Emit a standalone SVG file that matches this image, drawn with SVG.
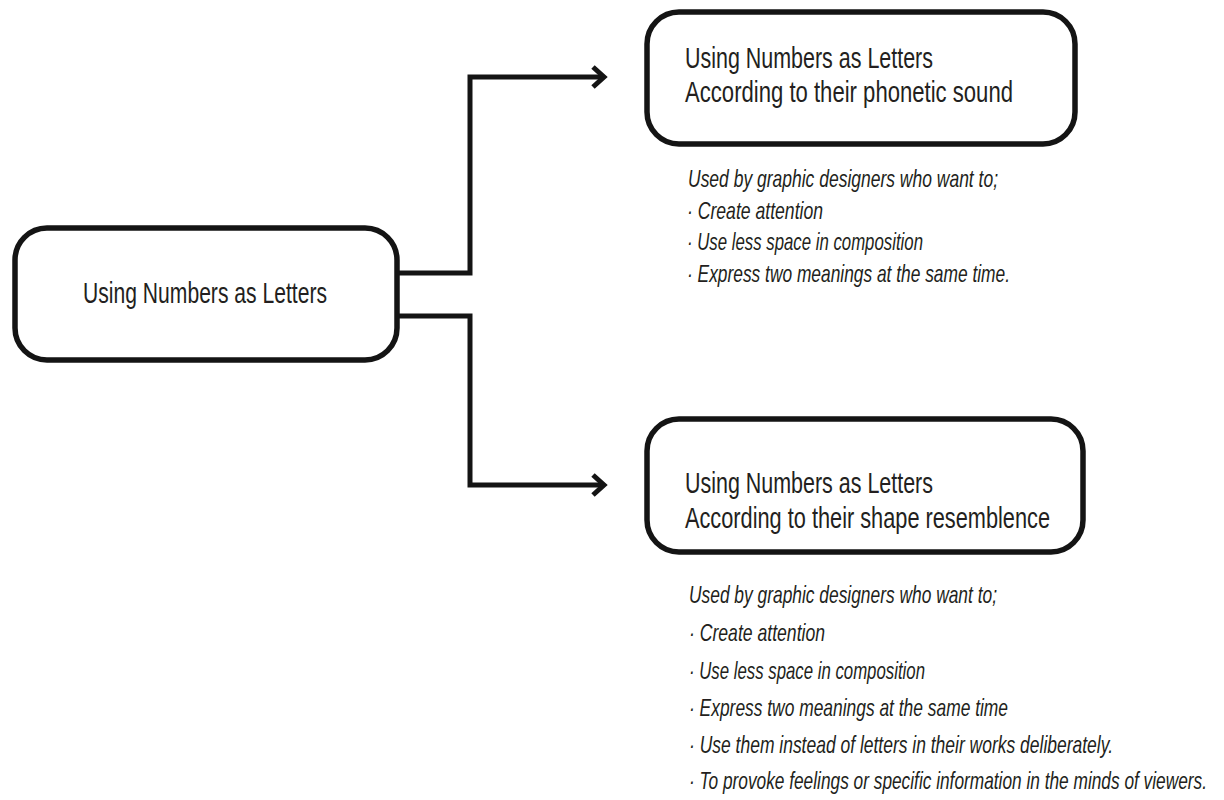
<svg xmlns="http://www.w3.org/2000/svg" width="1224" height="800" viewBox="0 0 1224 800">
  <defs>
    <style>
      .box { fill: #ffffff; stroke: #141414; stroke-width: 5.5; }
      .conn { fill: none; stroke: #141414; stroke-width: 5; stroke-linejoin: miter; }
      .t { font-family: "Liberation Sans", Arial, sans-serif; font-size: 29px; fill: #231f20; }
      .it { font-family: "Liberation Sans", Arial, sans-serif; font-style: italic; fill: #231f20; font-size: 23px; }
    </style>
    <marker id="arrow" markerUnits="userSpaceOnUse" markerWidth="30" markerHeight="30" viewBox="-20 -15 30 30" refX="0" refY="0" orient="auto">
      <path d="M-11,-10 L0,0 L-11,10" fill="none" stroke="#141414" stroke-width="5" stroke-linejoin="miter"/>
    </marker>
  </defs>
  <rect width="1224" height="800" fill="#ffffff"/>

  <g id="connectors">
    <path class="conn" d="M397,273 H470 V77 H604" marker-end="url(#arrow)"/>
    <path class="conn" d="M397,316 H470 V485 H604" marker-end="url(#arrow)"/>
  </g>

  <g id="node-root">
    <rect class="box" x="15" y="228" width="382" height="132" rx="32" ry="32"/>
    <text class="t" x="83" y="303" textLength="244" lengthAdjust="spacingAndGlyphs">Using Numbers as Letters</text>
  </g>

  <g id="node-phonetic">
    <rect class="box" x="647" y="12" width="428" height="132" rx="32" ry="32"/>
    <text class="t" x="685" y="68" textLength="248" lengthAdjust="spacingAndGlyphs">Using Numbers as Letters</text>
    <text class="t" x="685" y="102" textLength="328" lengthAdjust="spacingAndGlyphs">According to their phonetic sound</text>
  </g>

  <g id="note-phonetic">
    <text class="it" transform="translate(688,187) scale(0.7,1)" textLength="442.9" lengthAdjust="spacingAndGlyphs">Used by graphic designers who want to;</text>
    <text class="it" transform="translate(687,219) scale(0.7,1)" textLength="194.3" lengthAdjust="spacingAndGlyphs">· Create attention</text>
    <text class="it" transform="translate(687,250) scale(0.7,1)" textLength="337.1" lengthAdjust="spacingAndGlyphs">· Use less space in composition</text>
    <text class="it" transform="translate(687,282) scale(0.7,1)" textLength="461.4" lengthAdjust="spacingAndGlyphs">· Express two meanings at the same time.</text>
  </g>

  <g id="node-shape">
    <rect class="box" x="647" y="419" width="436" height="133" rx="32" ry="32"/>
    <text class="t" x="685" y="493" textLength="248" lengthAdjust="spacingAndGlyphs">Using Numbers as Letters</text>
    <text class="t" x="685" y="528" textLength="365" lengthAdjust="spacingAndGlyphs">According to their shape resemblence</text>
  </g>

  <g id="note-shape">
    <text class="it" transform="translate(689,603) scale(0.7,1)" textLength="440" lengthAdjust="spacingAndGlyphs">Used by graphic designers who want to;</text>
    <text class="it" transform="translate(689,641) scale(0.7,1)" textLength="194.3" lengthAdjust="spacingAndGlyphs">· Create attention</text>
    <text class="it" transform="translate(689,679) scale(0.7,1)" textLength="337.1" lengthAdjust="spacingAndGlyphs">· Use less space in composition</text>
    <text class="it" transform="translate(689,716) scale(0.7,1)" textLength="455.7" lengthAdjust="spacingAndGlyphs">· Express two meanings at the same time</text>
    <text class="it" transform="translate(689,753) scale(0.7,1)" textLength="605.7" lengthAdjust="spacingAndGlyphs">· Use them instead of letters in their works deliberately.</text>
    <text class="it" transform="translate(689,789) scale(0.7,1)" textLength="740" lengthAdjust="spacingAndGlyphs">· To provoke feelings or specific information in the minds of viewers.</text>
  </g>
</svg>
